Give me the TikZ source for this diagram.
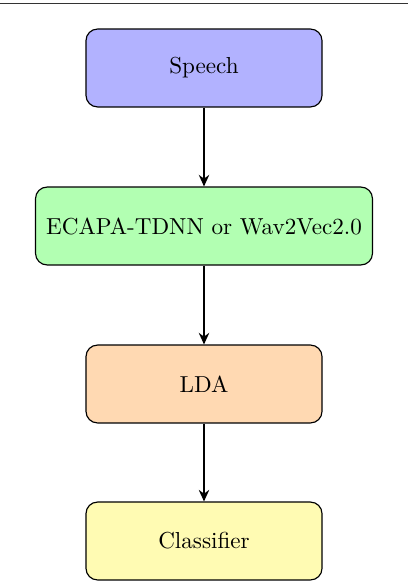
\documentclass[tikz,border=0pt]{standalone}
\usetikzlibrary{arrows.meta}
\begin{document}
\begin{tikzpicture}[x=0.4326pt,y=-0.4326pt,
  box/.style={draw=black, line width=0.5pt, rounded corners=5pt, minimum width=102.1pt, minimum height=33.7pt, inner sep=3.33pt, align=center},
  conn/.style={-{Stealth[length=5pt,width=4.5pt]}, line width=0.8pt}]
\useasboundingbox (0,0) rectangle (408,582);
\coordinate (tl) at (0,3);
\coordinate (tr) at (408,3);
\draw[line width=0.4pt, black!80] (tl) -- (tr);
\node[box, fill=blue!30] (speech) at (204,68) {Speech};
\node[box, fill=green!30, inner xsep=4.6pt] (enc) at (204,226) {ECAPA-TDNN or Wav2Vec2.0};
\node[box, fill=orange!30] (lda) at (204,384) {LDA};
\node[box, fill=yellow!30] (clf) at (204,541) {Classifier};
\draw[conn] (speech) -- (enc);
\draw[conn] (enc) -- (lda);
\draw[conn] (lda) -- (clf);
\end{tikzpicture}
\end{document}
